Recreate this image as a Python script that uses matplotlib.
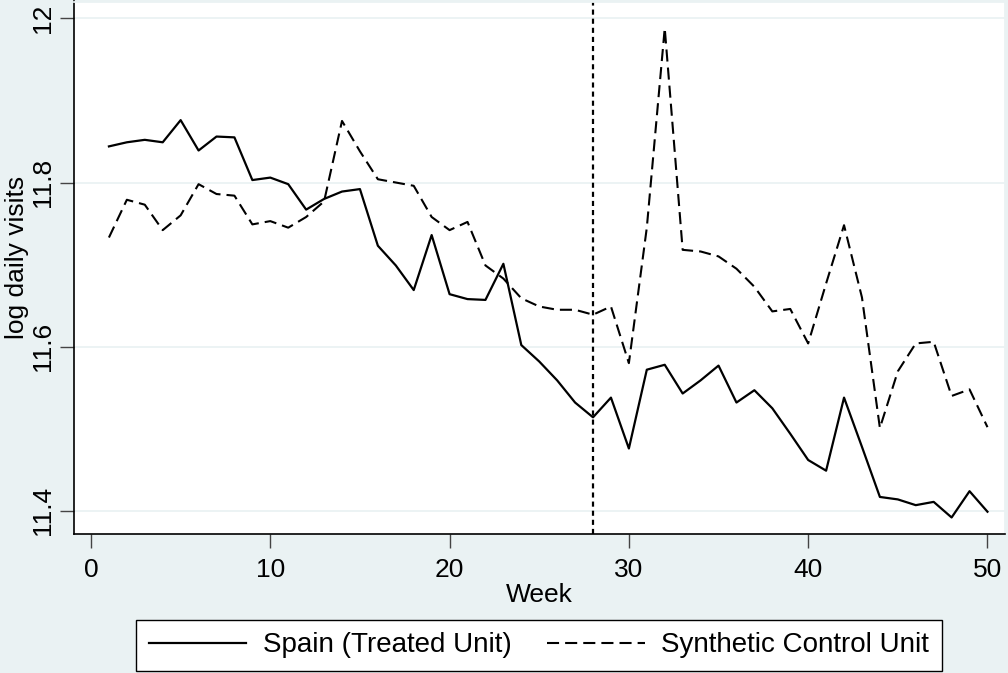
# -*- coding: utf-8 -*-

import numpy as np
import matplotlib
matplotlib.use('Agg')
import matplotlib.pyplot as plt

plt.rcParams['font.family'] = ['Liberation Sans', 'DejaVu Sans']

bg = '#EAF2F3'

weeks = np.arange(1, 51)
spain = [11.844, 11.849, 11.852, 11.849, 11.876, 11.839, 11.856, 11.855, 11.803, 11.806,
         11.798, 11.767, 11.780, 11.789, 11.792, 11.723, 11.699, 11.669, 11.736, 11.664,
         11.658, 11.657, 11.701, 11.602, 11.582, 11.559, 11.532, 11.514, 11.538, 11.476,
         11.572, 11.578, 11.543, 11.559, 11.577, 11.532, 11.547, 11.525, 11.494, 11.462,
         11.449, 11.538, 11.478, 11.417, 11.414, 11.407, 11.411, 11.392, 11.424, 11.399]
synth = [11.733, 11.779, 11.773, 11.742, 11.760, 11.798, 11.786, 11.784, 11.749, 11.753,
         11.745, 11.758, 11.777, 11.875, 11.838, 11.804, 11.800, 11.796, 11.758, 11.742,
         11.752, 11.699, 11.683, 11.659, 11.649, 11.645, 11.645, 11.639, 11.649, 11.580,
         11.745, 11.988, 11.718, 11.716, 11.710, 11.695, 11.673, 11.643, 11.646, 11.604,
         11.677, 11.748, 11.660, 11.501, 11.570, 11.604, 11.606, 11.540, 11.548, 11.502]
treat_week = 28

xticks = [0, 10, 20, 30, 40, 50]
yticks = [11.4, 11.6, 11.8, 12]
ytick_labels = ['11.4', '11.6', '11.8', '12']

fs = 19
leg_fs = 20

fig = plt.figure(figsize=(10.08, 6.73), dpi=100, facecolor=bg)
ax = fig.add_axes([74 / 1008, 1 - 534.3 / 673, 930.5 / 1008, 532.8 / 673])
ax.set_facecolor('white')

for y in yticks:
    ax.axhline(y, color=bg, lw=1.3, zorder=1)

ax.plot(weeks, spain, color='black', lw=1.6, label='Spain (Treated Unit)', zorder=3)
ax.plot(weeks, synth, color='black', lw=1.5, dashes=(5.8, 2.9),
        label='Synthetic Control Unit', zorder=3)
ax.axvline(treat_week, color='black', lw=1.6, dashes=(2.3, 1.8), zorder=2)

ax.set_xlim(-0.948, 50.95)
ax.set_ylim(11.3715, 12.0205)

ax.set_xticks(xticks)
ax.set_yticks(yticks)
ax.set_yticklabels(ytick_labels, rotation=90, va='center')
ax.tick_params(axis='both', direction='out', length=10, width=1, color='#444444',
               labelsize=fs)
ax.tick_params(axis='x', pad=7)
ax.tick_params(axis='y', pad=4)

for s in ['top', 'right']:
    ax.spines[s].set_color(bg)
    ax.spines[s].set_linewidth(1.3)
for s in ['left', 'bottom']:
    ax.spines[s].set_color('black')
    ax.spines[s].set_linewidth(1.2)

ax.set_xlabel('Week', fontsize=fs, labelpad=1)
ax.set_ylabel('log daily visits', fontsize=fs)
ax.yaxis.set_label_coords(-0.048, 0.52)

leg = ax.legend(loc='upper center', bbox_to_anchor=(539 / 1008, 1 - 620 / 673),
                bbox_transform=fig.transFigure, ncol=2, fontsize=leg_fs, frameon=True,
                fancybox=False, edgecolor='black', facecolor='white', framealpha=1,
                handlelength=3.5, handletextpad=0.6, columnspacing=1.3,
                borderpad=0.45, borderaxespad=0)
leg.get_frame().set_linewidth(1.0)

fig.savefig('out.png', dpi=100, facecolor=bg)
